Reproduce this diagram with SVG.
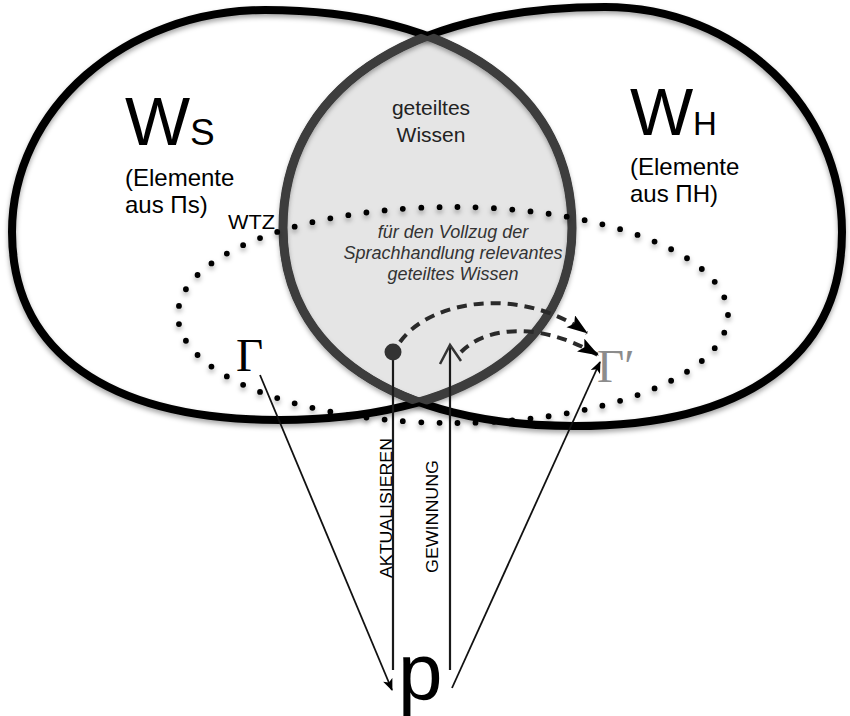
<svg xmlns="http://www.w3.org/2000/svg" width="850" height="716" viewBox="0 0 850 716">
<style>
.sans{font-family:"Liberation Sans",Arial,sans-serif}
.serif{font-family:"Liberation Serif","Times New Roman",serif}
.big{stroke:#000;stroke-width:8;fill:none}
.lensline{stroke:#3d3d3d;stroke-width:9;fill:none}
.thin{stroke:#111;stroke-width:1.8;fill:none}
.vert{stroke:#1a1a1a;stroke-width:2.2;fill:none}
.dash{stroke:#2a2a2a;stroke-width:4;fill:none;stroke-dasharray:10 7}
</style>
<defs>
<path id="leftShape" d="M12,232 C12,109 125,10 265,10 C455,10 572,93 572,228 C572,347 461,420 280,420 C108,420 12,352 12,232 Z"/>
<path id="rightShape" d="M283,228 C283,91 405,7 605,7 C738,7 842,108 842,232 C842,356 746,426 575,426 C394,426 283,351 283,228 Z"/>
<clipPath id="clipL"><use href="#leftShape"/></clipPath>
<clipPath id="clipR"><use href="#rightShape"/></clipPath>
<filter id="sh" x="-5%" y="-5%" width="110%" height="115%">
<feDropShadow dx="0" dy="3" stdDeviation="2.5" flood-color="#000" flood-opacity="0.35"/>
</filter>
<marker id="ah" viewBox="0 0 12 10" refX="11" refY="5" markerWidth="13" markerHeight="10" orient="auto" markerUnits="userSpaceOnUse">
<path d="M0,0 L12,5 L0,10 L3,5 Z" fill="#000"/>
</marker>
<marker id="ahBig" viewBox="0 0 20 14" refX="19" refY="7" markerWidth="21" markerHeight="15" orient="auto" markerUnits="userSpaceOnUse">
<path d="M0,0 L20,7 L0,14 L4,7 Z" fill="#000"/>
</marker>
</defs>
<rect width="850" height="716" fill="#fff"/>

<g id="lens">
<use href="#rightShape" fill="#e5e5e5" clip-path="url(#clipL)"/>
</g>

<g id="WS-set" filter="url(#sh)">
<use href="#leftShape" class="big"/>
</g>
<g id="WH-set" filter="url(#sh)">
<use href="#rightShape" class="big"/>
</g>
<g id="lens-outline">
<g clip-path="url(#clipR)"><use href="#leftShape" class="lensline"/></g>
<g clip-path="url(#clipL)"><use href="#rightShape" class="lensline"/></g>
</g>

<g id="WTZ" filter="url(#sh)">
<ellipse cx="453" cy="315" rx="275" ry="108" pathLength="690" fill="none" stroke="#000" stroke-width="5.8" stroke-linecap="round" stroke-dasharray="0 10"/>
</g>

<g id="label-WS">
<text class="sans" x="125" y="145" font-size="69">W</text>
<text class="sans" x="190" y="145" font-size="37">S</text>
<text class="sans" x="125" y="186" font-size="24">(Elemente</text>
<text class="sans" x="125" y="213" font-size="24">aus Πs)</text>
</g>
<g id="label-WH">
<text class="sans" x="630" y="135" font-size="67">W</text>
<text class="sans" x="693" y="135" font-size="33">H</text>
<text class="sans" x="630" y="175" font-size="24">(Elemente</text>
<text class="sans" x="630" y="202" font-size="24">aus ΠH)</text>
</g>
<g id="label-shared" fill="#222">
<text class="sans" x="431" y="115" font-size="21" text-anchor="middle">geteiltes</text>
<text class="sans" x="431" y="142" font-size="21" text-anchor="middle">Wissen</text>
</g>
<g id="label-relevant" fill="#333" font-style="italic">
<text class="sans" x="453" y="238" font-size="18" text-anchor="middle">für den Vollzug der</text>
<text class="sans" x="453" y="259" font-size="18" text-anchor="middle">Sprachhandlung relevantes</text>
<text class="sans" x="453" y="280" font-size="18" text-anchor="middle">geteiltes Wissen</text>
</g>
<g id="label-WTZ">
<text class="sans" x="228" y="229" font-size="20" textLength="47" lengthAdjust="spacingAndGlyphs">WTZ</text>
</g>

<g id="Gamma">
<text class="serif" x="236" y="371" font-size="47">Γ</text>
</g>
<g id="Gamma-prime">
<text class="serif" x="597" y="382" font-size="47" fill="#8c8c8c">Γ′</text>
</g>
<g id="p">
<text class="sans" x="398" y="699" font-size="80">p</text>
</g>

<g id="connectors">
<path class="thin" d="M260,375 L392,690" marker-end="url(#ah)"/>
<path class="thin" d="M452,688 L600,362" marker-end="url(#ah)"/>
<path class="vert" d="M393,352 L393,670"/>
<path class="vert" d="M450,346 L450,670"/>
<circle cx="393" cy="352" r="8.5" fill="#333"/>
<path d="M440,364 L450,345 L461,361" fill="none" stroke="#333" stroke-width="2.5"/>
<path class="dash" d="M400,342 C430,300 520,285 587,333" marker-end="url(#ahBig)"/>
<path class="dash" d="M461,352 C480,332 530,316 598,355" marker-end="url(#ahBig)"/>
</g>
<g id="verb-labels">
<text class="sans" transform="translate(392,578) rotate(-90)" font-size="16" textLength="140" lengthAdjust="spacingAndGlyphs">AKTUALISIEREN</text>
<text class="sans" transform="translate(438,573) rotate(-90)" font-size="16" textLength="113" lengthAdjust="spacingAndGlyphs">GEWINNUNG</text>
</g>
</svg>
